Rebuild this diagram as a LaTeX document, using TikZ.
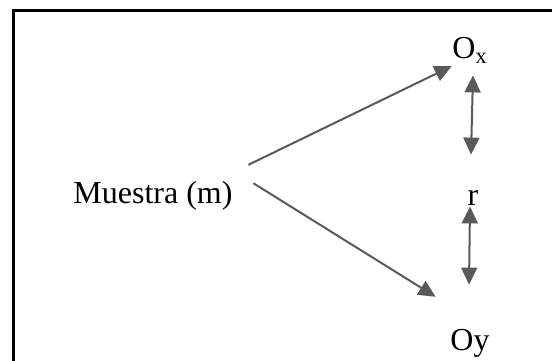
\documentclass[tikz,border=0pt]{standalone}
\usepackage{fontspec}
\setmainfont{Liberation Serif}
\usetikzlibrary{arrows.meta}
\definecolor{arrowgray}{RGB}{89,89,89}
\tikzstyle{vertex}=[inner sep=0pt,minimum size=0pt]
\tikzstyle{word}=[inner sep=0pt,font=\fontsize{16}{19}\selectfont]
\tikzstyle{link}=[draw=arrowgray,line width=1pt,-{Triangle[length=8.5pt,width=8pt]}]
\tikzstyle{twolink}=[draw=arrowgray,line width=1pt,{Triangle[length=8.5pt,width=8pt]}-{Triangle[length=8.5pt,width=8pt]}]
\newcommand{\vertex}{\node[vertex]}
\newcommand{\word}{\node[word]}

\begin{document}
\begin{tikzpicture}[x=0.5pt,y=-0.5pt]
		\useasboundingbox (0,0) rectangle (552,360);
		\clip (0,0) rectangle (552,360);
		% % % % % % % % % % % % % % % % % % % % % % % % % % % % %
		\draw [line width=1.5pt] (13.5,10.5) rectangle (570,380);
		%*********************
		\word [anchor=base] (m) at (153,203) {Muestra (m)};
		\word [anchor=base west] (ox) at (452,58) {O\textsubscript{x}};
		\word [anchor=base] (r) at (473,205) {r};
		\word [anchor=base] (oy) at (470,350) {Oy};
		%*********************
		\vertex [] (a1) at (248,165) {};
		\vertex [] (a2) at (452,66) {};
		\vertex [] (b1) at (253,183) {};
		\vertex [] (b2) at (436,297) {};
		%*********************
		\vertex [] (c1) at (473,75) {};
		\vertex [] (c2) at (471,155) {};
		\vertex [] (d1) at (470,206) {};
		\vertex [] (d2) at (469,285) {};
		%*********************

		\path
		% % % % % % % % % % % % % % % % %
		(a1) edge [link] (a2)
		(b1) edge [link] (b2)
		%**************
		(c2) edge [twolink] (c1)
		(d2) edge [twolink] (d1)
		%********************
		;
\end{tikzpicture}
\end{document}
